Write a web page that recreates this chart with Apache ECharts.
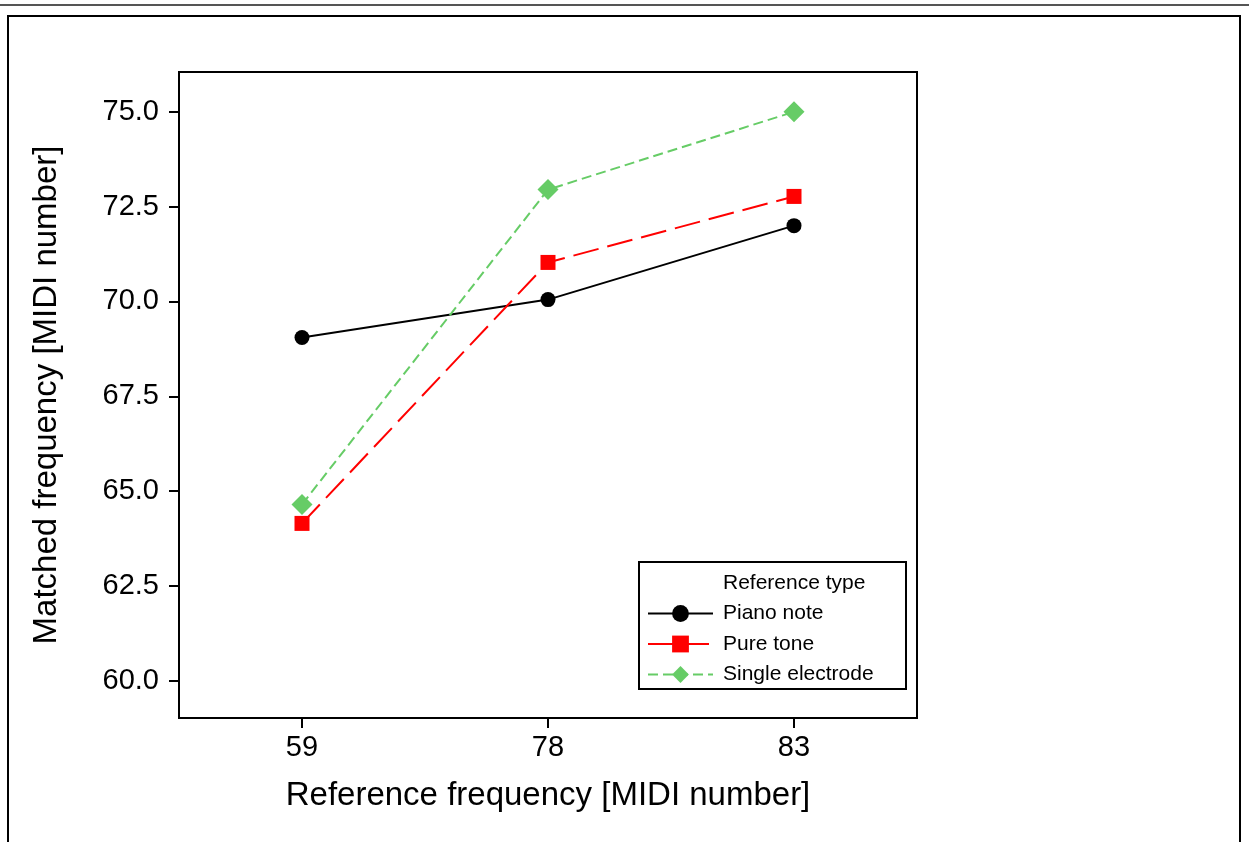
<!DOCTYPE html>
<html>
<head>
<meta charset="utf-8">
<script src="https://cdn.jsdelivr.net/npm/echarts@6/dist/echarts.min.js"></script>
<style>
  html, body { margin: 0; padding: 0; background: #fff; }
  #chart { width: 1249px; height: 842px; }
</style>
</head>
<body>
<div id="chart"></div>
<script>
// reference frequency categories (MIDI number)
const categories = ['59', '78', '83']
// matched frequency per reference type
const pianoNote = [69.05, 70.05, 72.0]
const pureTone = [64.15, 71.03, 72.77]
const singleElectrode = [64.65, 72.95, 75.0]
// y tick labels
const yTicks = [60.0, 62.5, 65.0, 67.5, 70.0, 72.5, 75.0]

const font = 'Liberation Sans'
const myChart = echarts.init(document.getElementById('chart'))

const option = {
  animation: false,
  backgroundColor: '#fff',
  grid: {
    left: 179,
    right: 332,
    top: 72,
    bottom: 124,
    show: true,
    borderColor: '#000',
    borderWidth: 2,
    backgroundColor: 'transparent'
  },
  legend: {
    orient: 'vertical',
    left: 647,
    top: 603,
    padding: 0,
    itemWidth: 65,
    itemHeight: 21,
    itemGap: 9.5,
    textStyle: { fontFamily: font, fontSize: 21, color: '#000', padding: [0, 0, 0, 5] },
    data: ['Piano note', 'Pure tone', 'Single electrode']
  },
  graphic: [
    // outer frame
    { type: 'line', shape: { x1: 0, y1: 5, x2: 1249, y2: 5 }, style: { stroke: '#555', lineWidth: 2 } },
    { type: 'polyline', shape: { points: [[8, 842], [8, 16], [1240, 16], [1240, 842]] }, style: { stroke: '#000', lineWidth: 2, fill: null } },
    // legend box
    { type: 'rect', shape: { x: 639, y: 562, width: 267, height: 127 }, style: { stroke: '#000', lineWidth: 2, fill: null }, z: 10 },
    { type: 'text', left: 723, top: 573, style: { text: 'Reference type', font: '21px ' + font, fill: '#000' }, z: 10 }
  ],
  xAxis: {
    type: 'category',
    data: categories,
    boundaryGap: true,
    name: 'Reference frequency [MIDI number]',
    nameLocation: 'middle',
    nameGap: 61,
    nameTextStyle: { fontFamily: font, fontSize: 33, color: '#000' },
    axisLine: { show: true, lineStyle: { color: '#000', width: 2 } },
    axisTick: { show: true, alignWithLabel: true, length: 10, lineStyle: { color: '#000', width: 2 } },
    axisLabel: { fontFamily: font, fontSize: 29, color: '#000', margin: 15 },
    splitLine: { show: false }
  },
  yAxis: {
    type: 'value',
    min: 59.02,
    max: 76.05,
    name: 'Matched frequency [MIDI number]',
    nameLocation: 'middle',
    nameGap: 116,
    nameTextStyle: { fontFamily: font, fontSize: 33, color: '#000' },
    axisLine: { show: true, lineStyle: { color: '#000', width: 2 } },
    axisTick: { show: true, length: 10, customValues: yTicks, lineStyle: { color: '#000', width: 2 } },
    axisLabel: {
      fontFamily: font, fontSize: 29, color: '#000', margin: 20,
      customValues: yTicks,
      formatter: v => v.toFixed(1)
    },
    splitLine: { show: false }
  },
  series: [
    {
      name: 'Piano note',
      type: 'line',
      data: pianoNote,
      symbol: 'circle',
      symbolSize: 15,
      itemStyle: { color: '#000' },
      lineStyle: { color: '#000', width: 2, type: 'solid' }
    },
    {
      name: 'Pure tone',
      type: 'line',
      data: pureTone,
      symbol: 'rect',
      symbolSize: 15,
      itemStyle: { color: '#ff0000' },
      lineStyle: { color: '#ff0000', width: 2, type: [26, 9] }
    },
    {
      name: 'Single electrode',
      type: 'line',
      data: singleElectrode,
      symbol: 'diamond',
      symbolSize: 21,
      itemStyle: { color: '#66cc66' },
      lineStyle: { color: '#66cc66', width: 2, type: [10, 5] }
    }
  ]
}

myChart.setOption(option)
</script>
</body>
</html>
